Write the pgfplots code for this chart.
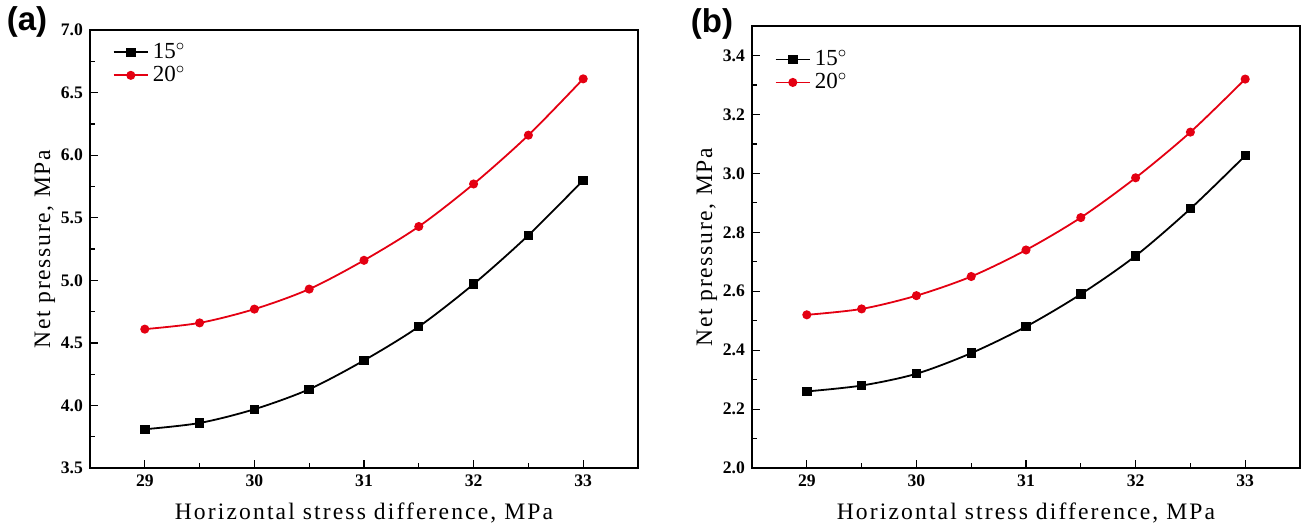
\documentclass[border=0pt]{standalone}
\usepackage{fontspec}
\setmainfont{Liberation Serif}
\newfontfamily\panelfont{Liberation Sans}
\newfontfamily\xlabfont[LetterSpace=9]{Liberation Serif}
\newfontfamily\ylabfont[LetterSpace=7]{Liberation Serif}
\usepackage{pgfplots}
\pgfplotsset{compat=1.18}
\definecolor{cred}{RGB}{228,0,18}

\pgfplotsset{
  netp/.style={
    scale only axis,
    width=274pt,
    xmin=28.5, xmax=33.5,
    xtick={29,30,31,32,33},
    minor x tick num=1,
    tick align=inside,
    xtick pos=bottom, ytick pos=left,
    major tick length=4pt, minor tick length=2.5pt,
    tick style={black, line width=0.6pt},
    axis line style={line width=0.7pt},
    /pgf/number format/assume math mode=true,
    ticklabel style={font=\fontsize{8.8}{10}\selectfont\bfseries},
    xlabel={\xlabfont Horizontal stress difference, MPa},
    ylabel={\ylabfont Net pressure, MPa},
    xlabel style={font=\fontsize{11.8}{13}\selectfont, yshift=-1pt},
    ylabel style={font=\fontsize{11.8}{13}\selectfont, yshift=-4pt},
    legend style={draw=none, fill=none, anchor=north west,
      font=\fontsize{11.5}{12}\selectfont, row sep=-2pt},
    legend cell align=left,
  },
  s15/.style={black, line width=0.9pt, smooth, mark=square*, mark size=1.9pt},
  s20/.style={cred, line width=0.9pt, smooth, mark=*, mark size=1.8pt},
}

\begin{document}
\begin{tikzpicture}
\begin{axis}[netp, name=a, at={(0,0)}, anchor=south west,
    height=219pt, ymin=3.5, ymax=7.0,
    ytick={3.5,4.0,...,7.0}, minor y tick num=1,
    legend style={at={(0.03,0.99)}},
    yticklabel style={/pgf/number format/.cd, fixed, fixed zerofill, precision=1}]
\addplot[s15] coordinates {(29,3.81) (29.5,3.86) (30,3.97) (30.5,4.13) (31,4.36) (31.5,4.63) (32,4.97) (32.5,5.36) (33,5.80)};
\addlegendentry{15$^\circ$}
\addplot[s20] coordinates {(29,4.61) (29.5,4.66) (30,4.77) (30.5,4.93) (31,5.16) (31.5,5.43) (32,5.77) (32.5,6.16) (33,6.61)};
\addlegendentry{20$^\circ$}
\end{axis}
\begin{axis}[netp, name=b, at={(331pt,0)}, anchor=south west,
    height=221pt, ymin=2.0, ymax=3.5,
    ytick={2.0,2.2,...,3.4}, minor y tick num=1,
    legend style={at={(0.03,0.965)}},
    yticklabel style={/pgf/number format/.cd, fixed, fixed zerofill, precision=1}]
\addplot[s15] coordinates {(29,2.26) (29.5,2.28) (30,2.32) (30.5,2.39) (31,2.48) (31.5,2.59) (32,2.72) (32.5,2.88) (33,3.06)};
\addlegendentry{15$^\circ$}
\addplot[s20] coordinates {(29,2.52) (29.5,2.54) (30,2.585) (30.5,2.65) (31,2.74) (31.5,2.85) (32,2.985) (32.5,3.14) (33,3.32)};
\addlegendentry{20$^\circ$}
\end{axis}
\node[font=\panelfont\bfseries\fontsize{16.5}{18}\selectfont] at (-31.5pt,223pt) {(a)};
\node[font=\panelfont\bfseries\fontsize{16.5}{18}\selectfont] at (311pt,222pt) {(b)};
\path[use as bounding box] (-45pt,-31.5pt) rectangle (607.5pt,233.5pt);
\end{tikzpicture}
\end{document}
